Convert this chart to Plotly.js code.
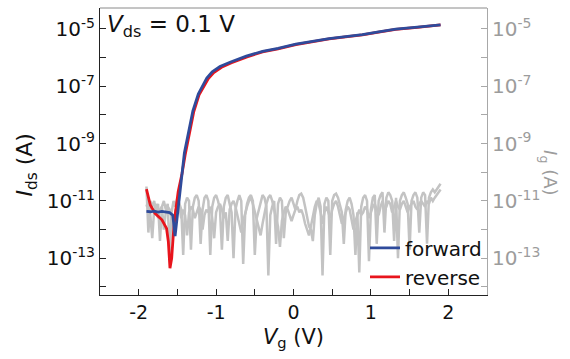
<!DOCTYPE html>
<html>
<head>
<meta charset="utf-8">
<script src="https://cdn.plot.ly/plotly-3.0.1.min.js"></script>
<style>
  html, body { margin: 0; padding: 0; background: #fff; }
  #chart { width: 570px; height: 359px; }
</style>
</head>
<body>
<div id="chart"></div>
<script>
// ---- Gate current (Ig), two sweeps ----
const vgGate = [
  -1.900,-1.875,-1.850,-1.825,-1.800,-1.775,-1.750,-1.725,-1.700,-1.675,
  -1.650,-1.625,-1.600,-1.575,-1.550,-1.525,-1.500,-1.475,-1.450,-1.425,
  -1.400,-1.375,-1.350,-1.325,-1.300,-1.275,-1.250,-1.225,-1.200,-1.175,
  -1.150,-1.125,-1.100,-1.075,-1.050,-1.025,-1.000,-0.975,-0.950,-0.925,
  -0.900,-0.875,-0.850,-0.825,-0.800,-0.775,-0.750,-0.725,-0.700,-0.675,
  -0.650,-0.625,-0.600,-0.575,-0.550,-0.525,-0.500,-0.475,-0.450,-0.425,
  -0.400,-0.375,-0.350,-0.325,-0.300,-0.275,-0.250,-0.225,-0.200,-0.175,
  -0.150,-0.125,-0.100,-0.075,-0.050,-0.025,0.000,0.025,0.050,0.075,
  0.100,0.125,0.150,0.175,0.200,0.225,0.250,0.275,0.300,0.325,
  0.350,0.375,0.400,0.425,0.450,0.475,0.500,0.525,0.550,0.575,
  0.600,0.625,0.650,0.675,0.700,0.725,0.750,0.775,0.800,0.825,
  0.850,0.875,0.900,0.925,0.950,0.975,1.000,1.025,1.050,1.075,
  1.100,1.125,1.150,1.175,1.200,1.225,1.250,1.275,1.300,1.325,
  1.350,1.375,1.400,1.425,1.450,1.475,1.500,1.525,1.550,1.575,
  1.600,1.625,1.650,1.675,1.700,1.725,1.750,1.775,1.800,1.825,
  1.850,1.875,1.900];
const igSweep1 = [
  3.2e-11,7.9e-13,1.0e-11,6.3e-12,1.0e-11,4.0e-12,7.9e-12,4.0e-13,6.3e-12,1.0e-11,
  5.0e-12,7.9e-12,1.3e-13,4.0e-12,1.0e-11,6.3e-12,1.3e-11,7.9e-12,5.0e-12,1.3e-13,
  7.9e-12,1.3e-11,1.0e-11,2.0e-13,6.3e-12,1.3e-11,1.6e-11,1.0e-11,3.2e-13,5.0e-12,
  1.3e-11,1.6e-11,1.0e-11,1.3e-13,6.3e-12,1.3e-11,1.6e-11,1.0e-11,5.0e-12,2.0e-13,
  6.3e-12,1.3e-11,1.6e-11,7.9e-12,4.0e-12,1.0e-13,5.0e-12,1.0e-11,1.6e-11,1.0e-11,
  6.3e-14,3.2e-12,7.9e-12,1.3e-11,1.6e-11,1.0e-11,1.3e-13,2.5e-12,5.0e-12,1.0e-11,
  1.6e-11,1.3e-11,6.3e-12,2.5e-14,3.2e-12,6.3e-12,1.0e-11,3.2e-13,7.9e-12,1.3e-11,
  1.0e-11,5.0e-13,4.0e-12,6.3e-12,1.0e-11,1.3e-11,7.9e-12,5.0e-12,1.0e-11,1.6e-11,
  1.8e-11,1.3e-11,6.3e-12,2.5e-12,1.3e-12,1.0e-12,4.0e-13,3.2e-12,7.9e-12,1.3e-11,
  6.3e-12,2.5e-14,7.9e-12,1.3e-11,1.0e-11,1.3e-13,1.0e-11,1.6e-11,1.8e-11,1.3e-11,
  7.9e-12,4.0e-12,3.2e-13,5.0e-12,1.0e-11,1.3e-11,7.9e-12,3.2e-12,1.3e-13,4.0e-12,
  3.2e-14,6.3e-12,1.3e-11,1.6e-11,1.0e-11,7.9e-14,5.0e-12,1.3e-11,1.6e-11,3.2e-13,
  1.0e-11,1.6e-11,2.0e-11,7.9e-13,1.3e-11,2.0e-11,1.6e-11,1.0e-11,4.0e-13,1.3e-11,
  1.0e-13,1.0e-11,1.6e-11,2.0e-11,1.3e-11,7.9e-12,2.0e-13,1.0e-11,1.6e-11,2.0e-11,
  1.3e-11,7.9e-13,1.3e-11,2.0e-11,1.6e-11,3.2e-13,1.3e-11,2.0e-11,2.5e-11,2.0e-11,
  2.5e-11,3.2e-11,4.0e-11];
const igSweep2 = [
  6.3e-12,1.0e-11,3.2e-12,5.0e-13,5.0e-12,7.9e-12,2.5e-12,5.0e-12,6.3e-12,1.0e-12,
  4.0e-12,6.3e-12,5.0e-12,2.5e-12,6.3e-13,5.0e-12,4.0e-12,6.3e-12,2.5e-12,5.0e-12,
  3.2e-12,6.3e-13,4.0e-12,6.3e-12,5.0e-12,2.5e-12,4.0e-12,6.3e-12,5.0e-12,1.0e-12,
  3.2e-12,5.0e-12,4.0e-12,6.3e-12,2.5e-12,5.0e-13,4.0e-12,6.3e-12,7.9e-12,5.0e-12,
  2.5e-12,4.0e-12,4.0e-13,5.0e-12,7.9e-12,1.0e-11,6.3e-12,3.2e-12,1.6e-12,7.9e-13,
  2.0e-12,4.0e-12,6.3e-12,1.0e-11,1.3e-11,7.9e-12,4.0e-12,2.0e-12,1.0e-12,6.3e-13,
  1.6e-12,4.0e-12,7.9e-12,1.3e-11,1.6e-11,1.0e-11,5.0e-12,2.5e-12,1.3e-12,2.5e-13,
  2.0e-12,4.0e-12,6.3e-12,5.0e-12,3.2e-12,2.0e-12,3.2e-12,5.0e-12,6.3e-12,4.0e-12,
  5.0e-12,3.2e-12,1.6e-12,1.0e-12,6.3e-13,1.3e-12,3.2e-12,6.3e-12,1.0e-11,7.9e-12,
  4.0e-12,1.6e-12,4.0e-12,6.3e-12,4.0e-12,2.5e-12,5.0e-12,7.9e-12,1.0e-11,6.3e-12,
  3.2e-12,1.6e-12,2.5e-12,4.0e-12,6.3e-12,5.0e-12,2.5e-12,1.0e-12,2.0e-12,3.2e-12,
  5.0e-12,3.2e-12,4.0e-12,6.3e-12,5.0e-12,2.5e-12,4.0e-12,6.3e-12,7.9e-12,5.0e-12,
  3.2e-12,6.3e-12,1.0e-11,5.0e-12,6.3e-12,1.0e-11,7.9e-12,4.0e-12,6.3e-12,1.0e-11,
  6.3e-12,5.0e-12,7.9e-12,1.0e-11,6.3e-12,4.0e-12,6.3e-12,7.9e-12,1.0e-11,6.3e-12,
  5.0e-12,7.9e-12,1.0e-11,7.9e-12,6.3e-12,1.0e-11,7.9e-12,1.3e-11,1.0e-11,1.3e-11,
  1.6e-11,2.0e-11,2.5e-11];

// ---- Drain current (Ids) ----
const vgForward = [-1.90,-1.85,-1.80,-1.75,-1.70,-1.65,-1.60,-1.56,-1.53,-1.50,-1.47,-1.44,-1.41,-1.36,-1.30,-1.23,-1.19,-1.12,-1.05,-0.95,-0.82,-0.61,-0.40,-0.20,0.03,0.25,0.46,0.70,0.89,1.10,1.32,1.60,1.90];
const idsForward = [4.3e-12,4.2e-12,4.4e-12,4.1e-12,4.3e-12,4.0e-12,3.9e-12,3.2e-12,6.0e-13,3.2e-12,1.8e-11,1.3e-10,4.7e-10,2.2e-9,1.4e-8,5.4e-8,8.7e-8,1.95e-7,3.2e-7,4.9e-7,6.9e-7,1.12e-6,1.66e-6,2.1e-6,2.95e-6,3.7e-6,4.6e-6,5.5e-6,6.3e-6,7.9e-6,9.8e-6,1.15e-5,1.38e-5];
const vgReverse = [-1.90,-1.85,-1.79,-1.70,-1.64,-1.617,-1.596,-1.574,-1.553,-1.53,-1.49,-1.44,-1.40,-1.35,-1.29,-1.22,-1.18,-1.10,-1.03,-0.93,-0.80,-0.60,-0.40,-0.20,0.03,0.25,0.46,0.70,0.89,1.10,1.32,1.60,1.90];
const idsReverse = [2.6e-11,7.2e-12,3.7e-12,2.2e-12,1.1e-12,3.8e-13,4.5e-14,1.0e-13,6.6e-13,3.2e-12,2.1e-11,9.0e-11,4.0e-10,2.0e-9,1.25e-8,5.0e-8,8.0e-8,1.85e-7,3.0e-7,4.6e-7,6.6e-7,1.06e-6,1.58e-6,2.0e-6,2.85e-6,3.6e-6,4.5e-6,5.4e-6,6.2e-6,7.8e-6,9.7e-6,1.14e-5,1.38e-5];

// ---- Ticks ----
const xTickVals = [-2,-1,0,1,2];
const xTickText = ['-2','-1','0','1','2'];
const xMinorVals = [-1.5,-0.5,0.5,1.5];
const yTickVals = [1e-13,1e-11,1e-9,1e-7,1e-5];
const yTickText = ['10<sup>-13</sup>','10<sup>-11</sup>','10<sup>-9</sup>','10<sup>-7</sup>','10<sup>-5</sup>'];
const yMinorVals = [1e-14,1e-12,1e-10,1e-8,1e-6];

const FONT = 'DejaVu Sans, Liberation Sans, Arial, sans-serif';
const GRAY = '#c3c3c3';
const AXGRAY = '#a8a8a8';
const LABGRAY = '#9c9c9c';

const traces = [
  {x: vgGate, y: igSweep1, yaxis: 'y', name: 'Ig sweep 1', mode: 'lines', showlegend: false,
   line: {color: GRAY, width: 2.5}, hoverinfo: 'skip'},
  {x: vgGate, y: igSweep2, yaxis: 'y', name: 'Ig sweep 2', mode: 'lines', showlegend: false,
   line: {color: GRAY, width: 2.5}, hoverinfo: 'skip'},
  {x: vgReverse, y: idsReverse, yaxis: 'y2', name: 'reverse', mode: 'lines', legendrank: 2,
   line: {color: '#e8141c', width: 2.8}},
  {x: vgForward, y: idsForward, yaxis: 'y2', name: 'forward', mode: 'lines', legendrank: 1,
   line: {color: '#2f4b9b', width: 2.8}}
];

const yRange = [-14.28, -4.27];

const layout = {
  width: 570, height: 359,
  margin: {l: 100, r: 83, t: 8, b: 64},
  paper_bgcolor: '#ffffff', plot_bgcolor: '#ffffff',
  font: {family: FONT, color: '#111'},
  showlegend: true,
  legend: {x: 1.0, xanchor: 'right', y: -0.005, yanchor: 'bottom',
           bgcolor: 'rgba(0,0,0,0)', font: {size: 20, color: '#111'},
           tracegroupgap: 0},
  xaxis: {
    range: [-2.5, 2.5], tickmode: 'array', tickvals: xTickVals, ticktext: xTickText,
    ticks: 'inside', ticklen: 6, tickwidth: 1, tickcolor: '#222',
    minor: {tickmode: 'array', tickvals: xMinorVals, ticks: 'inside', ticklen: 6, tickwidth: 1, tickcolor: '#222', showgrid: false},
    showline: true, linecolor: '#222', linewidth: 1, mirror: false,
    showgrid: false, zeroline: false,
    tickfont: {size: 19, color: '#111'},
    title: {text: '<i>V</i><sub>g</sub> (V)', font: {size: 21, color: '#111'}, standoff: 7}
  },
  // Ig axis (right, gray)
  yaxis: {
    type: 'log', range: yRange, side: 'right', anchor: 'x',
    tickmode: 'array', tickvals: yTickVals, ticktext: yTickText,
    ticks: 'inside', ticklen: 6, tickwidth: 1, tickcolor: AXGRAY,
    minor: {tickmode: 'array', tickvals: yMinorVals, ticks: 'inside', ticklen: 6, tickwidth: 1, tickcolor: AXGRAY, showgrid: false},
    showline: true, linecolor: AXGRAY, linewidth: 1,
    showgrid: false, zeroline: false,
    tickfont: {size: 20, color: LABGRAY}
  },
  // Ids axis (left, black)
  yaxis2: {
    type: 'log', range: yRange, overlaying: 'y', side: 'left', anchor: 'x',
    tickmode: 'array', tickvals: yTickVals, ticktext: yTickText,
    ticks: 'inside', ticklen: 6, tickwidth: 1, tickcolor: '#222',
    minor: {tickmode: 'array', tickvals: yMinorVals, ticks: 'inside', ticklen: 6, tickwidth: 1, tickcolor: '#222', showgrid: false},
    showline: true, linecolor: '#222', linewidth: 1,
    showgrid: false, zeroline: false,
    tickfont: {size: 20, color: '#111'}
  },
  shapes: [
    {type: 'line', xref: 'paper', yref: 'paper', x0: 0, x1: 1, y0: 1, y1: 1,
     line: {color: '#8a8a8a', width: 1}}
  ],
  annotations: [
    {xref: 'paper', yref: 'paper', x: 0.012, y: 0.995, xanchor: 'left', yanchor: 'top',
     showarrow: false, text: '<i>V</i><sub>ds</sub> = 0.1 V', font: {size: 23, color: '#111'}},
    {xref: 'paper', yref: 'paper', x: -0.19, y: 0.456, xanchor: 'center', yanchor: 'middle',
     showarrow: false, textangle: -90, text: '<i>I</i><sub>ds</sub> (A)', font: {size: 22, color: '#111'}},
    {xref: 'paper', yref: 'paper', x: 1.16, y: 0.425, xanchor: 'center', yanchor: 'middle',
     showarrow: false, textangle: 90, text: '<i>I</i><sub>g</sub> (A)', font: {size: 18, color: LABGRAY}}
  ]
};

Plotly.newPlot('chart', traces, layout, {displayModeBar: false, staticPlot: true});
</script>
</body>
</html>
